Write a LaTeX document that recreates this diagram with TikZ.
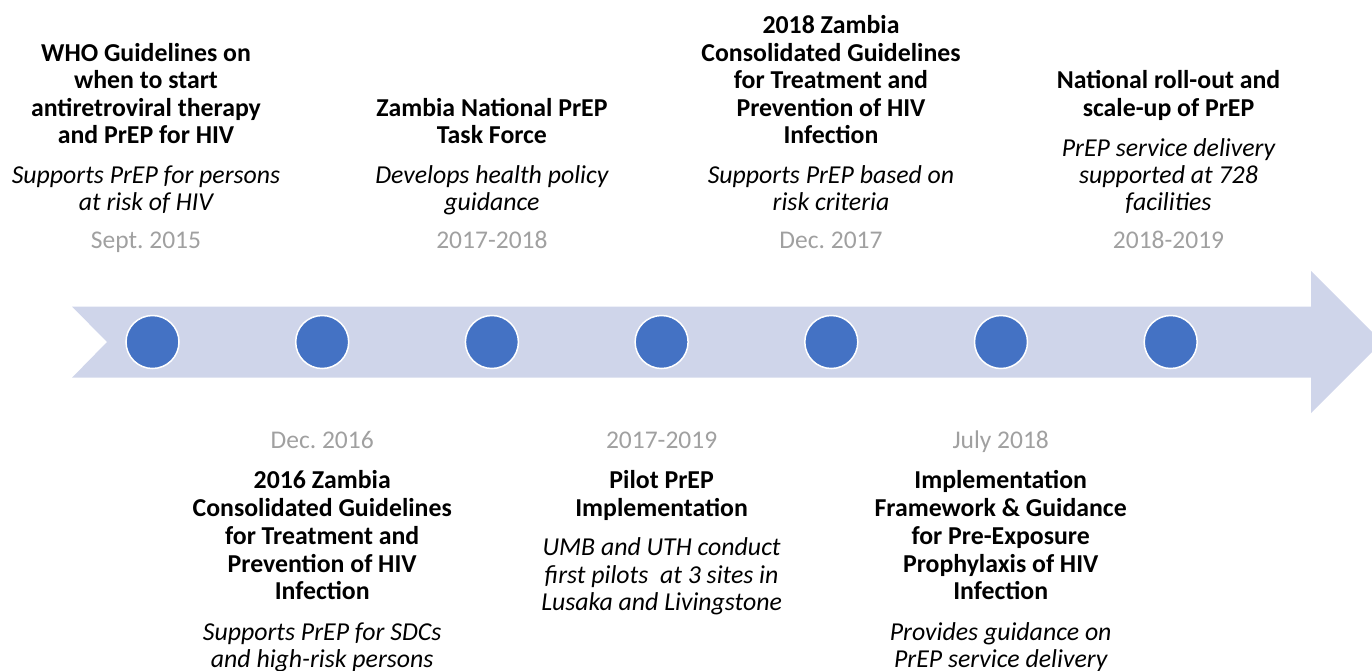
\documentclass[tikz,border=0pt]{standalone}
\usepackage{fontspec}
\setmainfont{Carlito}
\frenchspacing
\definecolor{bandcol}{HTML}{CFD5EA}
\definecolor{dotcol}{HTML}{4472C4}
\definecolor{datecol}{HTML}{A0A0A0}
\tikzset{
  dot/.style={circle, fill=dotcol, draw=white, line width=1.5pt, minimum size=53pt, inner sep=0pt},
  head/.style={anchor=base, inner sep=0pt, font=\fontsize{25.8}{28}\selectfont\bfseries},
  desc/.style={anchor=base, inner sep=0pt, font=\fontsize{25.8}{28}\selectfont\itshape},
  date/.style={anchor=base, inner sep=0pt, text=datecol, font=\fontsize{25.5}{28}\selectfont},
}
\begin{document}
\begin{tikzpicture}[x=1pt,y=-1pt]
\useasboundingbox (0,0) rectangle (1372,670);
% band arrow
\fill[bandcol] (72,306.5) -- (1311,306.5) -- (1311,271) -- (1382,342) -- (1311,413) -- (1311,377.7) -- (72,377.7) -- (107,342) -- cycle;
% dots
\foreach \i/\x in {1/152.5,2/322.2,3/491.9,4/661.6,5/831.3,6/1001,7/1170.7}
  \node[dot] (d\i) at (\x,342) {};
% column 1 (top)
\node[head] (c1a) at (146,61) {WHO Guidelines on};
\node[head] (c1b) at (146,88.5) {when to start};
\node[head] (c1c) at (146,116) {antiretroviral therapy};
\node[head] (c1d) at (146,143.5) {and PrEP for HIV};
\node[desc] (c1e) at (146,183) {Supports PrEP for persons};
\node[desc] (c1f) at (146,210.5) {at risk of HIV};
\node[date] (c1g) at (146,248.5) {Sept. 2015};
% column 2 (bottom)
\node[date] (c2g) at (322.2,448) {Dec. 2016};
\node[head] (c2a) at (322.2,488) {2016 Zambia};
\node[head] (c2b) at (322.2,516) {Consolidated Guidelines};
\node[head] (c2c) at (322.2,544) {for Treatment and};
\node[head] (c2d) at (322.2,572) {Prevention of HIV};
\node[head] (c2e) at (322.2,599.5) {Infection};
\node[desc] (c2f) at (322.2,640) {Supports PrEP for SDCs};
\node[desc] (c2h) at (322.2,667) {and high-risk persons};
% column 3 (top)
\node[head] (c3a) at (491.9,116) {Zambia National PrEP};
\node[head] (c3b) at (491.9,143.5) {Task Force};
\node[desc] (c3c) at (491.9,183) {Develops health policy};
\node[desc] (c3d) at (491.9,210.5) {guidance};
\node[date] (c3e) at (491.9,248.5) {2017-2018};
% column 4 (bottom)
\node[date] (c4g) at (661.6,448) {2017-2019};
\node[head] (c4a) at (661.6,488) {Pilot PrEP};
\node[head] (c4b) at (661.6,516) {Implementation};
\node[desc] (c4c) at (661.6,555.5) {UMB and UTH conduct};
\node[desc] (c4d) at (661.6,583) {first pilots\ \ at 3 sites in};
\node[desc] (c4e) at (661.6,610.5) {Lusaka and Livingstone};
% column 5 (top)
\node[head] (c5a) at (831,33.5) {2018 Zambia};
\node[head] (c5b) at (831,61) {Consolidated Guidelines};
\node[head] (c5c) at (831,88.5) {for Treatment and};
\node[head] (c5d) at (831,116) {Prevention of HIV};
\node[head] (c5e) at (831,143.5) {Infection};
\node[desc] (c5f) at (831,183) {Supports PrEP based on};
\node[desc] (c5g) at (831,210.5) {risk criteria};
\node[date] (c5h) at (831,248.5) {Dec. 2017};
% column 6 (bottom)
\node[date] (c6g) at (1000.7,448) {July 2018};
\node[head] (c6a) at (1000.7,488) {Implementation};
\node[head] (c6b) at (1000.7,516) {Framework \& Guidance};
\node[head] (c6c) at (1000.7,544) {for Pre-Exposure};
\node[head] (c6d) at (1000.7,572) {Prophylaxis of HIV};
\node[head] (c6e) at (1000.7,599.5) {Infection};
\node[desc] (c6f) at (1000.7,640) {Provides guidance on};
\node[desc] (c6h) at (1000.7,667) {PrEP service delivery};
% column 7 (top)
\node[head] (c7a) at (1168.5,88.5) {National roll-out and};
\node[head] (c7b) at (1168.5,116) {scale-up of PrEP};
\node[desc] (c7c) at (1168.5,156) {PrEP service delivery};
\node[desc] (c7d) at (1168.5,183) {supported at 728};
\node[desc] (c7e) at (1168.5,210.5) {facilities};
\node[date] (c7f) at (1168.5,248.5) {2018-2019};
\end{tikzpicture}
\end{document}
